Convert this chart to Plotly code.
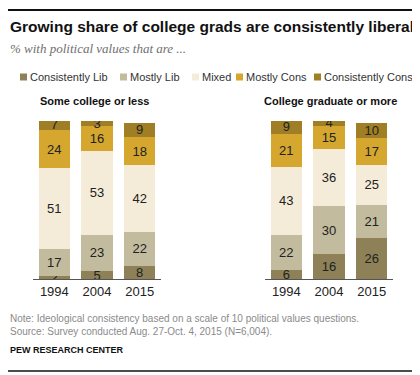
import plotly.graph_objects as go

years = ["1994", "2004", "2015"]
categories = ["Consistently Lib", "Mostly Lib", "Mixed", "Mostly Cons", "Consistently Cons"]
colors = ["#8E8158", "#C3BB9E", "#F4ECD8", "#D5A72F", "#9F7E25"]

some_college = {
    "Consistently Lib": [2, 5, 8],
    "Mostly Lib": [17, 23, 22],
    "Mixed": [51, 53, 42],
    "Mostly Cons": [24, 16, 18],
    "Consistently Cons": [7, 3, 9],
}
college_grad = {
    "Consistently Lib": [6, 16, 26],
    "Mostly Lib": [22, 30, 21],
    "Mixed": [43, 36, 25],
    "Mostly Cons": [21, 15, 17],
    "Consistently Cons": [9, 4, 10],
}
panel_titles = ["Some college or less", "College graduate or more"]

# the page body has an 8px default margin: size the figure to fit the window
OFF = 8
W, H = 420 - OFF, 375 - OFF
REG = "Liberation Sans, Arial, sans-serif"
fig = go.Figure()

for panel, (data, xa) in enumerate([(some_college, "x"), (college_grad, "x2")]):
    for cat, col in zip(categories, colors):
        vals = data[cat]
        fig.add_trace(go.Bar(
            x=years, y=vals, name=cat, marker=dict(color=col, line=dict(width=0)),
            text=[str(v) for v in vals], textposition="inside", insidetextanchor="middle",
            textangle=0, constraintext="none",
            insidetextfont=dict(family=REG, size=13, color="#222"),
            xaxis=xa, yaxis="y", showlegend=False, hoverinfo="skip",
        ))

def px_x(p):
    return (p - OFF) / W

def px_y(p):
    return 1 - (p - OFF) / H

ydom = [px_y(279), px_y(121)]
axis_common = dict(type="category", showgrid=False, zeroline=False, showline=True,
                   linecolor="#555", linewidth=1, ticks="", ticklabelstandoff=0,
                   tickfont=dict(family=REG, size=13, color="#222"),
                   fixedrange=True)
fig.update_layout(
    width=W, height=H, margin=dict(l=0, r=0, t=0, b=0),
    paper_bgcolor="white", plot_bgcolor="white",
    barmode="stack", bargap=0.27,
    xaxis=dict(domain=[px_x(33), px_x(161)], anchor="y", **axis_common),
    xaxis2=dict(domain=[px_x(265), px_x(393)], anchor="y", **axis_common),
    yaxis=dict(domain=ydom, range=[0, 100], visible=False, fixedrange=True),
    showlegend=False,
)

ann = []
shapes = []
shapes.append(dict(type="line", xref="paper", yref="paper", x0=px_x(8), x1=px_x(418),
                   y0=px_y(10), y1=px_y(10), layer="above", line=dict(color="#111", width=2)))
shapes.append(dict(type="line", xref="paper", yref="paper", x0=px_x(8), x1=px_x(418),
                   y0=px_y(371), y1=px_y(371), layer="above", line=dict(color="#111", width=1.5)))

ann.append(dict(text="<b>Growing share of college grads are consistently liberal</b>",
                x=px_x(8), y=px_y(26), xref="paper", yref="paper", xanchor="left", yanchor="middle",
                showarrow=False, font=dict(family=REG, size=15.5, color="#111")))
ann.append(dict(text="<i>% with political values that are ...</i>",
                x=px_x(8), y=px_y(48), xref="paper", yref="paper", xanchor="left", yanchor="middle",
                showarrow=False, font=dict(family="Liberation Serif, Georgia, serif", size=13, color="#6f6f6f")))

leg_x = [20, 120, 192, 236, 314]
for cat, col, lx in zip(categories, colors, leg_x):
    shapes.append(dict(type="rect", xref="paper", yref="paper",
                       x0=px_x(lx), x1=px_x(lx + 7), y0=px_y(80.5), y1=px_y(73.5),
                       fillcolor=col, line=dict(width=0)))
    ann.append(dict(text=cat, x=px_x(lx + 8), y=px_y(77), xref="paper", yref="paper",
                    xanchor="left", yanchor="middle", showarrow=False,
                    font=dict(family=REG, size=11, color="#333")))

for t, cx in zip(panel_titles, [94, 330]):
    ann.append(dict(text=f"<b>{t}</b>", x=px_x(cx), y=px_y(101), xref="paper", yref="paper",
                    xanchor="center", yanchor="middle", showarrow=False,
                    font=dict(family=REG, size=11, color="#111")))

ann.append(dict(text="Note: Ideological consistency based on a scale of 10 political values questions.",
                x=px_x(8), y=px_y(318), xref="paper", yref="paper", xanchor="left", yanchor="middle",
                showarrow=False, font=dict(family=REG, size=10, color="#8a8a8a")))
ann.append(dict(text="Source: Survey conducted Aug. 27-Oct. 4, 2015 (N=6,004).",
                x=px_x(8), y=px_y(331), xref="paper", yref="paper", xanchor="left", yanchor="middle",
                showarrow=False, font=dict(family=REG, size=10, color="#8a8a8a")))
ann.append(dict(text="<b>PEW RESEARCH CENTER</b>",
                x=px_x(8), y=px_y(350), xref="paper", yref="paper", xanchor="left", yanchor="middle",
                showarrow=False, font=dict(family=REG, size=9, color="#111")))

fig.update_layout(annotations=ann, shapes=shapes)
fig.write_html("out.html")
